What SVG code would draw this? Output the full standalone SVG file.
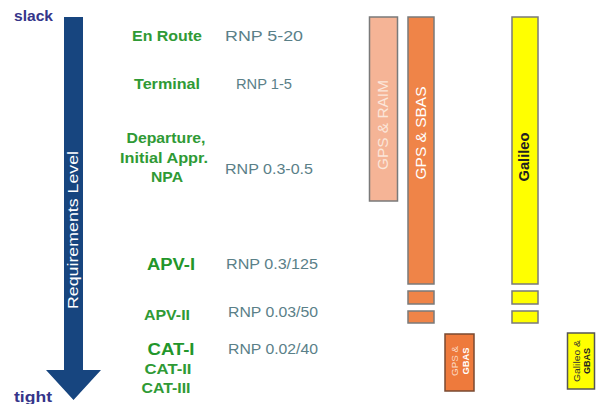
<svg xmlns="http://www.w3.org/2000/svg" width="596" height="404" viewBox="0 0 596 404">
<style>
.lbl{font-family:"Liberation Sans",Arial,sans-serif;font-weight:bold;fill:#2f9a35;font-size:15px;text-anchor:middle}
.rnp{font-family:"Liberation Sans",Arial,sans-serif;fill:#5a8088;font-size:15px;text-anchor:middle}
.end{font-family:"Liberation Sans",Arial,sans-serif;font-weight:bold;fill:#35358a;font-size:15px}
.bar{font-family:"Liberation Sans",Arial,sans-serif;text-anchor:middle}
</style>
<rect width="596" height="404" fill="#ffffff"/>
<g id="axis">
<polygon points="64,17 83,17 83,370 101,370 73.5,400 46,370 64,370" fill="#17457f"/>
<text transform="translate(78,230) rotate(-90)" font-family="Liberation Sans, Arial, sans-serif" font-size="14" fill="#ffffff" text-anchor="middle" textLength="158" lengthAdjust="spacingAndGlyphs">Requirements Level</text>
<text class="end" x="14" y="21" textLength="39" lengthAdjust="spacingAndGlyphs">slack</text>
<text class="end" x="14" y="402" textLength="38" lengthAdjust="spacingAndGlyphs">tight</text>
</g>
<g id="levels">
<text class="lbl" x="167" y="41" textLength="70" lengthAdjust="spacingAndGlyphs">En Route</text>
<text class="lbl" x="167" y="89" textLength="66" lengthAdjust="spacingAndGlyphs">Terminal</text>
<text class="lbl" x="166" y="143" textLength="79" lengthAdjust="spacingAndGlyphs">Departure,</text>
<text class="lbl" x="164" y="163" textLength="88" lengthAdjust="spacingAndGlyphs">Initial Appr.</text>
<text class="lbl" x="167" y="182" textLength="32" lengthAdjust="spacingAndGlyphs">NPA</text>
<text class="lbl" x="171" y="270" textLength="48" lengthAdjust="spacingAndGlyphs" style="fill:#22962a;font-size:16px">APV-I</text>
<text class="lbl" x="167" y="320" textLength="46" lengthAdjust="spacingAndGlyphs">APV-II</text>
<text class="lbl" x="171" y="355" textLength="47" lengthAdjust="spacingAndGlyphs" style="fill:#22962a;font-size:16px">CAT-I</text>
<text class="lbl" x="168" y="374" textLength="47" lengthAdjust="spacingAndGlyphs">CAT-II</text>
<text class="lbl" x="166" y="393" textLength="49" lengthAdjust="spacingAndGlyphs">CAT-III</text>
</g>
<g id="rnp">
<text class="rnp" x="264" y="41" textLength="78" lengthAdjust="spacingAndGlyphs">RNP 5-20</text>
<text class="rnp" x="264" y="89" textLength="56" lengthAdjust="spacingAndGlyphs">RNP 1-5</text>
<text class="rnp" x="269" y="174" textLength="88" lengthAdjust="spacingAndGlyphs">RNP 0.3-0.5</text>
<text class="rnp" x="272" y="269" textLength="92" lengthAdjust="spacingAndGlyphs">RNP 0.3/125</text>
<text class="rnp" x="273" y="317" textLength="90" lengthAdjust="spacingAndGlyphs">RNP 0.03/50</text>
<text class="rnp" x="273" y="354" textLength="90" lengthAdjust="spacingAndGlyphs">RNP 0.02/40</text>
</g>
<g id="gps-raim">
<rect x="369.5" y="17" width="28" height="184" fill="#f5b496" stroke="#7a7a7a" stroke-width="1.5"/>
<text class="bar" transform="translate(388,125) rotate(-90)" fill="#fbe6da" font-size="14" textLength="90" lengthAdjust="spacingAndGlyphs">GPS &amp; RAIM</text>
</g>
<g id="gps-sbas">
<rect x="408" y="17" width="26" height="267" fill="#ef8448" stroke="#7a7a7a" stroke-width="1.5"/>
<rect x="408" y="291" width="26" height="13" fill="#ef8448" stroke="#7a7a7a" stroke-width="1.5"/>
<rect x="408" y="311" width="26" height="12" fill="#ef8448" stroke="#7a7a7a" stroke-width="1.5"/>
<text class="bar" transform="translate(426,133) rotate(-90)" fill="#ffffff" font-size="14" textLength="93" lengthAdjust="spacingAndGlyphs">GPS &amp; SBAS</text>
</g>
<g id="galileo">
<rect x="512" y="17" width="26" height="267" fill="#ffff00" stroke="#7a7a7a" stroke-width="1.5"/>
<rect x="512" y="291" width="26" height="13" fill="#ffff00" stroke="#7a7a7a" stroke-width="1.5"/>
<rect x="512" y="311" width="26" height="12" fill="#ffff00" stroke="#7a7a7a" stroke-width="1.5"/>
<text class="bar" transform="translate(529,157) rotate(-90)" fill="#222222" font-size="14" font-weight="bold" textLength="49" lengthAdjust="spacingAndGlyphs">Galileo</text>
</g>
<g id="gps-gbas">
<rect x="445" y="334" width="29" height="57" fill="#ee7a3c" stroke="#7a4a30" stroke-width="1.5"/>
<text class="bar" transform="translate(458,361) rotate(-90)" fill="#fbd9c4" font-size="9" textLength="30" lengthAdjust="spacingAndGlyphs">GPS &amp;</text>
<text class="bar" transform="translate(469,361) rotate(-90)" fill="#ffffff" font-size="9" font-weight="bold" textLength="27" lengthAdjust="spacingAndGlyphs">GBAS</text>
</g>
<g id="galileo-gbas">
<rect x="567.5" y="333" width="27" height="56" fill="#ffff00" stroke="#555555" stroke-width="1.5"/>
<text class="bar" transform="translate(580,361) rotate(-90)" fill="#333333" font-size="9" textLength="42" lengthAdjust="spacingAndGlyphs">Galileo &amp;</text>
<text class="bar" transform="translate(590,361) rotate(-90)" fill="#222222" font-size="9" font-weight="bold" textLength="26" lengthAdjust="spacingAndGlyphs">GBAS</text>
</g>
<g id="connectors"></g>
</svg>
